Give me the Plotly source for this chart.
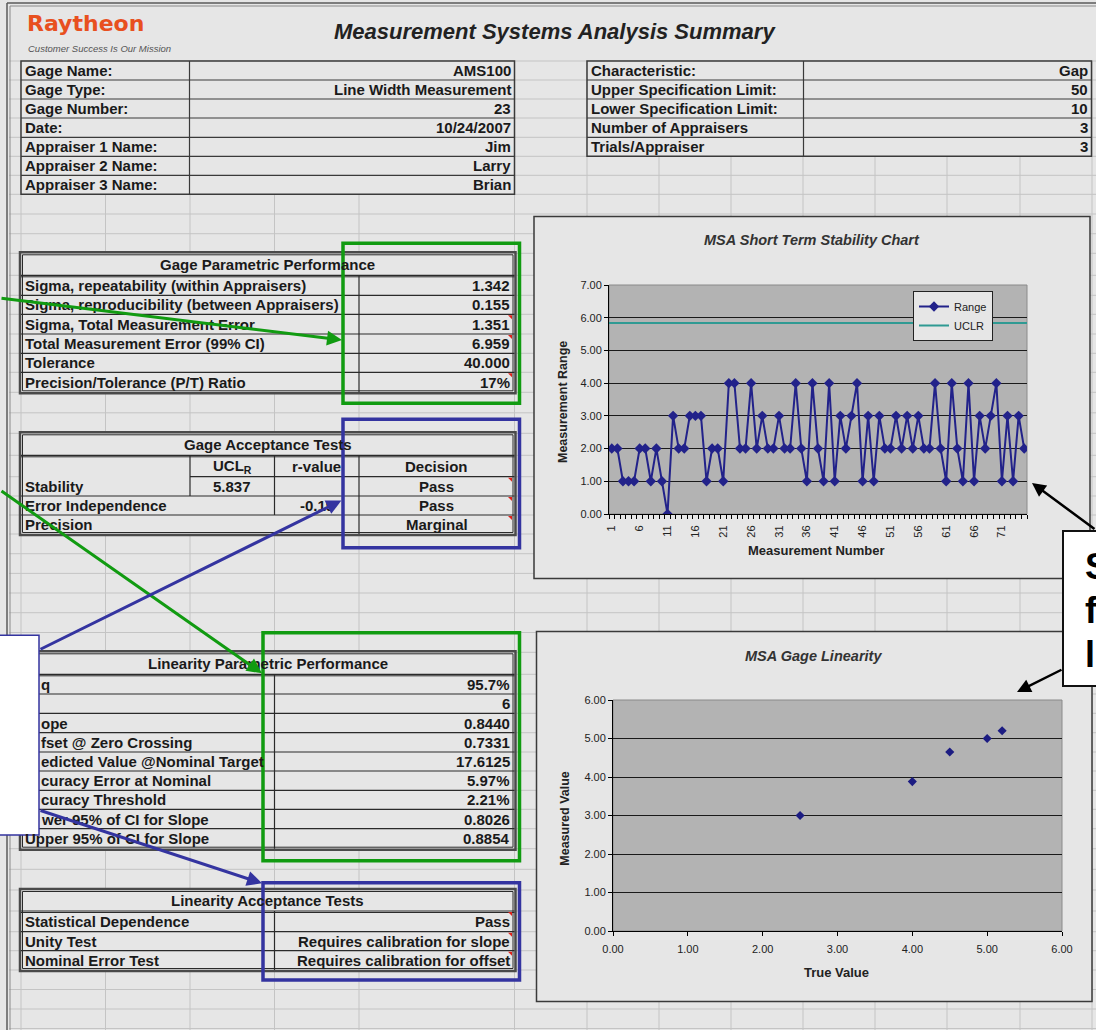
import plotly.graph_objects as go

W, H = 1096, 1030
BG = "#e6e6e6"
GRID = "#c4c4c4"
PLOT_BG = "#b3b3b3"
FONT = "Liberation Sans, Arial, sans-serif"
GREEN = "#119b11"
BLUE = "#3434a0"
NAVY = "#22228a"
TEAL = "#2f9a93"

# ---------------- data ----------------
page_title = "Measurement Systems Analysis Summary"
logo_name = "Raytheon"
logo_tagline = "Customer Success Is Our Mission"

info_left_labels = ["Gage Name:", "Gage Type:", "Gage Number:", "Date:",
                    "Appraiser 1 Name:", "Appraiser 2 Name:", "Appraiser 3 Name:"]
info_left_values = ["AMS100", "Line Width Measurement", "23", "10/24/2007",
                    "Jim", "Larry", "Brian"]
info_right_labels = ["Characteristic:", "Upper Specification Limit:",
                     "Lower Specification Limit:", "Number of Appraisers",
                     "Trials/Appraiser"]
info_right_values = ["Gap", "50", "10", "3", "3"]

gpp_title = "Gage Parametric Performance"
gpp_labels = ["Sigma, repeatability (within Appraisers)",
              "Sigma, reproducibility (between Appraisers)",
              "Sigma, Total Measurement Error",
              "Total Measurement Error (99% CI)",
              "Tolerance",
              "Precision/Tolerance (P/T) Ratio"]
gpp_values = ["1.342", "0.155", "1.351", "6.959", "40.000", "17%"]
gpp_flagged = [False, False, True, True, False, True]

gat_title = "Gage Acceptance Tests"
gat_col_headers = ["UCL<sub>R</sub>", "r-value", "Decision"]
gat_labels = ["Stability", "Error Independence", "Precision"]
gat_ucl = "5.837"
gat_rvalue = "-0.19"
gat_decisions = ["Pass", "Pass", "Marginal"]

lpp_title = "Linearity Parametric Performance"
# left part of these labels is hidden behind the callout box in the original
lpp_labels = ["q", "", "ope", "fset @ Zero Crossing",
              "edicted Value @Nominal Target", "curacy Error at Nominal",
              "curacy Threshold", "wer 95% of CI for Slope",
              "Upper 95% of CI for Slope"]
lpp_values = ["95.7%", "6", "0.8440", "0.7331", "17.6125", "5.97%", "2.21%",
              "0.8026", "0.8854"]

lat_title = "Linearity Acceptance Tests"
lat_labels = ["Statistical Dependence", "Unity Test", "Nominal Error Test"]
lat_values = ["Pass", "Requires calibration for slope",
              "Requires calibration for offset"]

stab_title = "MSA Short Term Stability Chart"
stab_xtitle = "Measurement Number"
stab_ytitle = "Measurement Range"
measurement_number = list(range(1, 76))
measurement_range = [2, 2, 1, 1, 1, 2, 2, 1, 2, 1,
                     0, 3, 2, 2, 3, 3, 3, 1, 2, 2,
                     1, 4, 4, 2, 2, 4, 2, 3, 2, 2,
                     3, 2, 2, 4, 2, 1, 4, 2, 1, 4,
                     1, 3, 2, 3, 4, 1, 3, 1, 3, 2,
                     2, 3, 2, 3, 2, 3, 2, 2, 4, 2,
                     1, 4, 2, 1, 4, 1, 3, 2, 3, 4,
                     1, 3, 1, 3, 2]
ucl_r = 5.837
stab_tick_numbers = list(range(1, 76, 5))

lin_title = "MSA Gage Linearity"
lin_xtitle = "True Value"
lin_ytitle = "Measured Value"
lin_true = [2.5, 4.0, 4.5, 5.0, 5.2]
lin_measured = [3.0, 3.88, 4.65, 5.0, 5.2]

callout_letters = ["S", "f", "l"]

# ---------------- helpers ----------------
def X(px):
    return px / W


def Y(py):
    return 1 - py / H


shapes = []
annotations = []


def line(x0, y0, x1, y1, color="#333", width=1):
    shapes.append(dict(type="line", xref="paper", yref="paper",
                       x0=X(x0), y0=Y(y0), x1=X(x1), y1=Y(y1),
                       line=dict(color=color, width=width), layer="below"))


def rect(x0, y0, x1, y1, fill=None, color="#333", width=1):
    d = dict(type="rect", xref="paper", yref="paper",
             x0=X(x0), y0=Y(y0), x1=X(x1), y1=Y(y1),
             line=dict(color=color, width=width), layer="below")
    d["fillcolor"] = fill if fill else "rgba(0,0,0,0)"
    shapes.append(d)


def text(px, py, s, anchor="left", size=15, bold=True, italic=False,
         color="#1a1a1a", angle=0, family=FONT):
    t = s
    if bold:
        t = "<b>" + t + "</b>"
    if italic:
        t = "<i>" + t + "</i>"
    annotations.append(dict(xref="paper", yref="paper", x=X(px), y=Y(py),
                            text=t, showarrow=False, xanchor=anchor,
                            yanchor="middle", textangle=angle,
                            font=dict(family=family, size=size, color=color),
                            borderpad=0))


def arrow(hx, hy, tx, ty, color, width=3, size=1.0):
    annotations.append(dict(xref="paper", yref="paper", x=X(hx), y=Y(hy),
                            ax=tx - hx, ay=ty - hy, axref="pixel", ayref="pixel",
                            text="", showarrow=True, arrowhead=2,
                            arrowsize=size, arrowwidth=width,
                            arrowcolor=color, standoff=0, startstandoff=0))


def flag(xr, ytop):
    shapes.append(dict(type="path", xref="paper", yref="paper",
                       path="M {} {} L {} {} L {} {} Z".format(
                           X(xr - 5), Y(ytop + 1), X(xr - 1), Y(ytop + 1),
                           X(xr - 1), Y(ytop + 5)),
                       fillcolor="#e0201a", line=dict(width=0), layer="below"))


# ---------------- spreadsheet grid ----------------
grid_rows = [61, 80, 99, 118, 137.3, 156.3, 175.3, 194.3, 214, 233.7,
             253.3, 275.3, 295.3, 314.3, 334, 353.3, 372.3, 392.3, 412.8,
             433.3, 455.3, 476.7, 496, 515, 534, 553.7, 573.4, 593, 612.7,
             632.5, 652.3, 674.3, 694, 713.3, 732.7, 752, 771, 790.3, 809.3,
             828.7, 848.7, 869.3, 890, 911, 931.7, 950.7, 970, 989.5, 1009,
             1028.5]
grid_cols = [21, 105.5, 190, 274.5, 359, 514.5, 587, 659, 731, 803, 875,
             947, 1020, 1092]
for gy in grid_rows:
    line(9, gy, W, gy, GRID, 1)
for gx in grid_cols:
    line(gx, 61, gx, H, GRID, 1)

# page border (double line)
line(7, 3, W, 3, "#5a5a5a", 1.5)
line(10, 6, W, 6, "#8a8a8a", 1)
line(7, 3, 7, H, "#5a5a5a", 1.5)
line(10, 6, 10, H, "#8a8a8a", 1)

# ---------------- header ----------------
text(26, 24, logo_name, size=22, bold=True, color="#e8501f",
     family="DejaVu Sans, Liberation Sans, sans-serif")
text(27, 48, logo_tagline, size=9.5, bold=False, italic=True, color="#555")
text(555, 32, page_title, anchor="center", size=22, bold=True, italic=True,
     color="#222")


# ---------------- tables ----------------
def simple_table(x0, xd, x1, rows, labels, values, lx, vx):
    rect(x0, rows[0], x1, rows[-1], fill=BG, color="#3a3a3a", width=1.5)
    for ry in rows[1:-1]:
        line(x0, ry, x1, ry, "#3a3a3a", 1.2)
    line(xd, rows[0], xd, rows[-1], "#3a3a3a", 1.2)
    for i, (lab, val) in enumerate(zip(labels, values)):
        cy = (rows[i] + rows[i + 1]) / 2
        text(lx, cy, lab)
        text(vx, cy, val, anchor="right")


simple_table(21, 189.5, 514.5, [61, 80, 99, 118, 137.3, 156.3, 175.3, 194.3],
             info_left_labels, info_left_values, 24, 511.5)
simple_table(587, 803.5, 1091.5, [61, 80, 99, 118, 137.3, 156.3],
             info_right_labels, info_right_values, 590, 1088.5)


def titled_table(x0, xd, x1, rows, title, labels, values, lx, vx, flags):
    rect(x0 - 1, rows[0] - 1, x1 + 1, rows[-1] + 1, fill=BG, color="#4a4a4a",
         width=2.5)
    rect(x0 + 1.5, rows[0] + 1.5, x1 - 1.5, rows[-1] - 1.5, color="#2a2a2a",
         width=1)
    for ry in rows[1:-1]:
        line(x0, ry, x1, ry, "#2a2a2a", 1.2)
    line(x0, rows[1] + 1.5, x1, rows[1] + 1.5, "#2a2a2a", 1)
    line(xd, rows[1], xd, rows[-1], "#2a2a2a", 1.2)
    text((x0 + x1) / 2, (rows[0] + rows[1]) / 2, title, anchor="center")
    for i, (lab, val) in enumerate(zip(labels, values)):
        top, bot = rows[i + 1], rows[i + 2]
        cy = (top + bot) / 2
        if lab:
            text(lx, cy, lab)
        text(vx, cy, val, anchor="right")
        if flags[i]:
            flag(x1 - 1.5, top)


titled_table(21, 359, 514.5,
             [253.3, 275.3, 295.3, 314.3, 334, 353.3, 372.3, 392.3],
             gpp_title, gpp_labels, gpp_values, 24, 511, gpp_flagged)

lpp_label_x = [40, 40, 40, 40, 40, 40, 40, 40, 24]
lpp_rows = [652.3, 674.3, 694, 713.3, 732.7, 752, 771, 790.3, 809.3, 828.7,
            848.7]
titled_table(21, 274.5, 514.5, lpp_rows, lpp_title,
             [""] * len(lpp_labels), lpp_values, 24, 511,
             [False] * len(lpp_values))
for i, lab in enumerate(lpp_labels):
    if lab:
        text(lpp_label_x[i], (lpp_rows[i + 1] + lpp_rows[i + 2]) / 2, lab)

titled_table(21, 274.5, 514.5, [890, 911, 931.7, 950.7, 970], lat_title,
             lat_labels, lat_values, 24, 511, [True, True, True])

# Gage acceptance tests (irregular layout)
ga = [433.3, 455.3, 476.7, 496, 515, 534]
rect(20, ga[0] - 1, 515.5, ga[-1] + 1, fill=BG, color="#4a4a4a", width=2.5)
rect(22.5, ga[0] + 1.5, 513, ga[-1] - 1.5, color="#2a2a2a", width=1)
line(21, ga[1], 514.5, ga[1], "#2a2a2a", 1.2)
line(21, ga[1] + 1.5, 514.5, ga[1] + 1.5, "#2a2a2a", 1)
line(190, ga[2], 514.5, ga[2], "#2a2a2a", 1.2)
line(21, ga[3], 514.5, ga[3], "#2a2a2a", 1.2)
line(21, ga[4], 514.5, ga[4], "#2a2a2a", 1.2)
line(190, ga[1], 190, ga[3], "#2a2a2a", 1.2)
line(274.5, ga[1], 274.5, ga[4], "#2a2a2a", 1.2)
line(359, ga[1], 359, ga[5], "#2a2a2a", 1.2)
text(268, (ga[0] + ga[1]) / 2, gat_title, anchor="center")
col_centers = [232, 316.7, 436.7]
for cx, hdr in zip(col_centers, gat_col_headers):
    text(cx, (ga[1] + ga[2]) / 2, hdr, anchor="center")
for i, lab in enumerate(gat_labels):
    cy = (ga[i + 2] + ga[i + 3]) / 2
    text(24, cy, lab)
    text(436.7, cy, gat_decisions[i], anchor="center")
    flag(513, ga[i + 2])
text(232, (ga[2] + ga[3]) / 2, gat_ucl, anchor="center")
text(316.7, (ga[3] + ga[4]) / 2, gat_rvalue, anchor="center")

# ---------------- chart frames ----------------
rect(534, 216.5, 1090, 578.5, fill=BG, color="#3a3a3a", width=1.5)
rect(609, 285, 1027, 514, fill=PLOT_BG, color="#8a8a8a", width=1)
rect(536.5, 631.5, 1092, 1001.5, fill=BG, color="#3a3a3a", width=1.5)
rect(613, 700, 1062, 931, fill=PLOT_BG, color="#8a8a8a", width=1)

text(811.6, 240, stab_title, anchor="center", size=14.5, italic=True,
     color="#333")
text(563, 402, stab_ytitle, anchor="center", size=12.5, angle=-90,
     color="#222")
text(816.6, 550, stab_xtitle, anchor="center", size=13, color="#222")

text(813.4, 656, lin_title, anchor="center", size=14.5, italic=True,
     color="#333")
text(565, 818.7, lin_ytitle, anchor="center", size=12.5, angle=-90,
     color="#222")
text(836, 972, lin_xtitle, anchor="center", size=13, color="#222")

# ---------------- highlight boxes ----------------
rect(343, 243.3, 519.5, 403.3, color=GREEN, width=3.5)
rect(343, 419.3, 519.5, 547.7, color=BLUE, width=3.5)
rect(263, 632.7, 519.5, 860.7, color=GREEN, width=3.5)
rect(263, 882.7, 519.5, 980, color=BLUE, width=3.5)

# callout boxes
rect(-3, 635.3, 39, 835, fill="#ffffff", color=BLUE, width=1.5)
rect(1063, 531, W + 5, 686, fill="#ffffff", color="#111", width=2)
for i, ch in enumerate(callout_letters):
    text(1084, 566 + 44 * i, ch, size=36, color="#000")

# ---------------- arrows ----------------
arrow(342, 340, 0, 298, GREEN)
arrow(262, 673.3, 0, 490, GREEN)
arrow(341.4, 500.5, 39, 650, BLUE)
arrow(262, 883.3, 39, 810, BLUE)
arrow(1032, 483, 1096, 530, "#000", width=2.5, size=1.1)
arrow(1017, 692, 1063, 669, "#000", width=2.5, size=1.1)

# ---------------- traces ----------------
fig = go.Figure()
fig.add_trace(go.Scatter(
    x=measurement_number, y=measurement_range, name="Range",
    mode="lines+markers", line=dict(color=NAVY, width=2),
    marker=dict(symbol="diamond", size=8, color=NAVY),
    xaxis="x", yaxis="y", hoverinfo="skip"))
fig.add_trace(go.Scatter(
    x=[0.5, 75.5], y=[ucl_r, ucl_r], name="UCLR", mode="lines",
    line=dict(color=TEAL, width=2), xaxis="x", yaxis="y", hoverinfo="skip"))
fig.add_trace(go.Scatter(
    x=lin_true, y=lin_measured, mode="markers", showlegend=False,
    marker=dict(symbol="diamond", size=7, color="#1c1c82"),
    xaxis="x2", yaxis="y2", hoverinfo="skip"))

tickfont = dict(family=FONT, size=11, color="#222")

fig.update_layout(
    width=W, height=H, autosize=False,
    margin=dict(l=0, r=0, t=0, b=0, pad=0, autoexpand=False),
    paper_bgcolor=BG, plot_bgcolor="rgba(0,0,0,0)",
    font=dict(family=FONT, color="#222"),
    shapes=shapes, annotations=annotations,
    showlegend=True,
    legend=dict(x=X(913), y=Y(291), xanchor="left", yanchor="top",
                bgcolor=BG, bordercolor="#222", borderwidth=1,
                font=dict(family=FONT, size=11, color="#222"),
                itemwidth=30, tracegroupgap=0, traceorder="normal"),
    xaxis=dict(domain=[X(609), X(1027)], range=[0.5, 75.5], anchor="y",
               tickmode="array", tickvals=stab_tick_numbers,
               ticktext=[str(v) for v in stab_tick_numbers], tickangle=-90,
               ticks="", ticklabelstandoff=6, showgrid=False, zeroline=False,
               showline=True, linecolor="#000", linewidth=1,
               tickfont=tickfont, fixedrange=True,
               minor=dict(tickmode="linear", tick0=0.5, dtick=1,
                          ticks="outside", ticklen=4, tickcolor="#000",
                          tickwidth=1, showgrid=False)),
    yaxis=dict(domain=[Y(514), Y(285)], range=[0, 7], anchor="x",
               tickmode="linear", tick0=0, dtick=1, tickformat=".2f",
               ticks="outside", ticklen=4, tickcolor="#000",
               showgrid=True, gridcolor="#1a1a1a", gridwidth=1,
               zeroline=False, showline=True, linecolor="#000",
               linewidth=1, tickfont=tickfont, fixedrange=True),
    xaxis2=dict(domain=[X(613), X(1062)], range=[0, 6], anchor="y2",
                tickmode="linear", tick0=0, dtick=1, tickformat=".2f",
                ticks="outside", ticklen=4, tickcolor="#000",
                ticklabelstandoff=4, showgrid=False, zeroline=False,
                showline=True, linecolor="#000", linewidth=1,
                tickfont=tickfont, fixedrange=True),
    yaxis2=dict(domain=[Y(931), Y(700)], range=[0, 6], anchor="x2",
                tickmode="linear", tick0=0, dtick=1, tickformat=".2f",
                ticks="outside", ticklen=4, tickcolor="#000",
                showgrid=True, gridcolor="#1a1a1a", gridwidth=1,
                zeroline=False, showline=True, linecolor="#000",
                linewidth=1, tickfont=tickfont, fixedrange=True),
)

fig.write_html("out.html", config=dict(displayModeBar=False))
